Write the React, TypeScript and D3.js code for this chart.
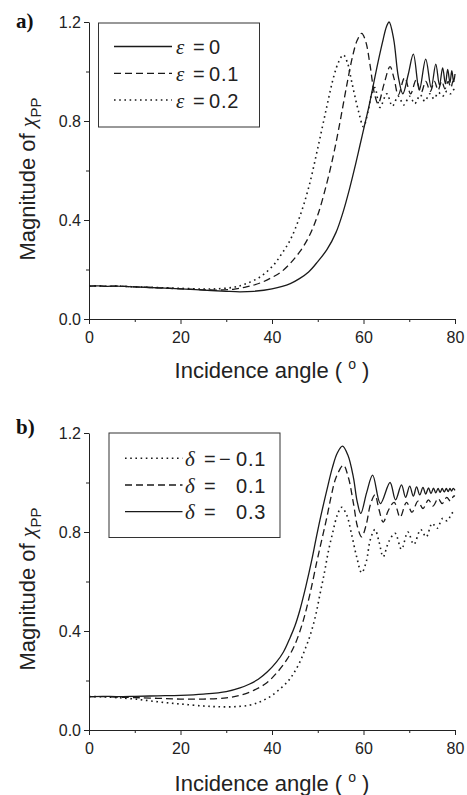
import { useEffect, useRef } from "react"
import * as d3 from "d3"

// axis ticks
const angleTicks = [0, 20, 40, 60, 80]
const angleMinorTicks = [10, 30, 50, 70]
const magTicks = [0, 0.4, 0.8, 1.2]
const magMinorTicks = [0.2, 0.6, 1.0]

// panel a) legend text
const epsLabels = ["0", "0.1", "0.2"]
// panel b) legend text
const deltaSigns = ["\u2212", "", ""]
const deltaLabels = ["0.1", "0.1", "0.3"]

// panel a) epsilon = 0 (solid)
const eps0Angle = [0, 2, 4, 6, 10, 15, 20, 25, 30, 33, 36, 40, 44, 46, 48, 50, 52, 54, 55.5, 57, 58.2, 59.2, 60.2, 61.2, 62.2, 63.2, 64.3, 65.0, 65.6, 66.6, 67.6, 68.6, 69.8, 70.9, 72.2, 73.6, 74.8, 75.8, 76.6, 77.3, 77.9, 78.4, 78.9, 79.3, 79.7, 80]
const eps0Mag = [0.133, 0.134, 0.132, 0.133, 0.13, 0.126, 0.122, 0.117, 0.112, 0.11, 0.112, 0.122, 0.143, 0.163, 0.19, 0.232, 0.28, 0.35, 0.43, 0.53, 0.62, 0.7, 0.78, 0.86, 0.95, 1.04, 1.13, 1.18, 1.2, 1.13, 0.98, 0.91, 0.99, 1.07, 0.925, 1.05, 0.935, 1.03, 0.945, 1.015, 0.95, 1.008, 0.955, 1.003, 0.958, 0.99]

// panel a) epsilon = 0.1 (dashed)
const eps1Angle = [0, 2, 4, 6, 10, 15, 20, 25, 28, 31.5, 34, 36, 38, 40.2, 42, 44, 46, 48, 50, 52, 53.4, 54.5, 55.6, 56.6, 57.6, 58.6, 59.6, 60.5, 61.4, 62.4, 63.2, 64.5, 65.8, 66.7, 67.6, 69.0, 70.3, 71.5, 72.6, 73.6, 74.6, 75.5, 76.3, 77.1, 77.8, 78.5, 79.1, 79.6, 80]
const eps1Mag = [0.133, 0.134, 0.132, 0.133, 0.13, 0.126, 0.122, 0.118, 0.117, 0.12, 0.128, 0.137, 0.15, 0.17, 0.19, 0.225, 0.27, 0.33, 0.42, 0.55, 0.66, 0.76, 0.87, 0.97, 1.06, 1.125, 1.154, 1.12, 1.03, 0.91, 0.87, 0.95, 1.02, 0.97, 0.905, 0.975, 0.91, 0.965, 0.915, 0.96, 0.92, 0.96, 0.925, 0.96, 0.93, 0.96, 0.935, 0.962, 0.955]

// panel a) epsilon = 0.2 (dotted)
const eps2Angle = [0, 2, 4, 6, 10, 15, 20, 25, 28, 31.5, 34, 37.4, 40.2, 42, 44, 46, 48, 50, 52, 53.5, 54.6, 55.6, 56.5, 57.4, 58.9, 60, 61, 61.8, 62.5, 63.6, 65.1, 66.3, 67.6, 68.8, 70.1, 71.2, 72.4, 73.4, 74.5, 75.4, 76.4, 77.3, 78.2, 79.0, 79.6, 80]
const eps2Mag = [0.133, 0.134, 0.132, 0.133, 0.13, 0.127, 0.124, 0.121, 0.122, 0.128, 0.14, 0.17, 0.215, 0.26, 0.32, 0.41, 0.53, 0.69, 0.86, 0.98, 1.04, 1.067, 1.035, 0.96, 0.84, 0.777, 0.84, 0.91, 0.935, 0.855, 0.91, 0.86, 0.9, 0.865, 0.9, 0.87, 0.905, 0.88, 0.91, 0.89, 0.915, 0.9, 0.92, 0.91, 0.925, 0.93]

// panel b) delta = -0.1 (dotted)
const deltaNegAngle = [0, 3, 6, 10, 15, 20, 25, 28, 31.5, 35, 37.4, 39.6, 41.7, 43.5, 44.7, 46.1, 47.3, 48.3, 49.5, 50.5, 51.5, 52.3, 53.3, 54.3, 55.2, 56.3, 57.4, 58.5, 59.6, 60.6, 61.5, 62.5, 63.4, 64.3, 65.5, 66.9, 68.3, 69.7, 71.0, 72.5, 73.7, 75.0, 76.1, 77.3, 78.3, 79.3, 80]
const deltaNegMag = [0.135, 0.134, 0.131, 0.125, 0.114, 0.105, 0.097, 0.094, 0.094, 0.1, 0.114, 0.135, 0.165, 0.197, 0.228, 0.275, 0.33, 0.38, 0.46, 0.55, 0.64, 0.72, 0.8, 0.87, 0.9, 0.87, 0.79, 0.7, 0.635, 0.68, 0.77, 0.81, 0.76, 0.7, 0.76, 0.795, 0.73, 0.8, 0.75, 0.81, 0.78, 0.835, 0.815, 0.855, 0.845, 0.875, 0.885]

// panel b) delta = 0.1 (dashed)
const deltaLowAngle = [0, 3, 6, 10, 15, 20, 25, 30, 33, 36, 38.8, 41, 43.2, 45, 46.8, 48.3, 49.8, 50.9, 52, 53, 54, 55.6, 56.7, 57.8, 58.7, 59.6, 60.6, 61.5, 62.5, 63.4, 64.3, 65.5, 66.7, 68, 69.4, 70.6, 71.9, 73.0, 74.2, 75.2, 76.3, 77.2, 78.2, 79.0, 79.7, 80]
const deltaLowMag = [0.135, 0.135, 0.133, 0.131, 0.128, 0.125, 0.125, 0.13, 0.14, 0.16, 0.19, 0.23, 0.283, 0.345, 0.44, 0.55, 0.68, 0.77, 0.86, 0.95, 1.02, 1.07, 1.02, 0.916, 0.82, 0.78, 0.83, 0.91, 0.95, 0.89, 0.84, 0.89, 0.92, 0.86, 0.92, 0.88, 0.925, 0.895, 0.93, 0.905, 0.935, 0.915, 0.94, 0.925, 0.945, 0.945]

// panel b) delta = 0.3 (solid)
const deltaHighAngle = [0, 3, 6, 10, 15, 20, 25, 30, 33, 35, 37, 39, 41, 42.5, 44, 45, 46.1, 47.4, 48.7, 49.6, 50.5, 52, 53.2, 54.3, 55.4, 56.6, 57.8, 58.6, 59.4, 60.7, 62.0, 63.7, 65.8, 67.0, 68.3, 69.2, 70.1, 70.9, 71.6, 72.3, 73.0, 73.6, 74.2, 74.75, 75.3, 75.8, 76.3, 76.75, 77.2, 77.65, 78.1, 78.5, 78.9, 79.25, 79.6, 80]
const deltaHighMag = [0.135, 0.136, 0.135, 0.136, 0.138, 0.14, 0.145, 0.155, 0.17, 0.185, 0.205, 0.235, 0.275, 0.315, 0.375, 0.42, 0.485, 0.58, 0.687, 0.77, 0.85, 0.97, 1.06, 1.12, 1.147, 1.11, 1.02, 0.925, 0.875, 0.96, 1.03, 0.915, 1.0, 0.93, 0.99, 0.94, 0.985, 0.945, 0.982, 0.95, 0.98, 0.953, 0.978, 0.955, 0.977, 0.958, 0.976, 0.96, 0.976, 0.962, 0.976, 0.963, 0.976, 0.965, 0.976, 0.968]

const SANS = "'Liberation Sans', Arial, sans-serif"
const SERIF = "'Liberation Serif', 'Times New Roman', serif"
const INK = "#222"
const dashes: Record<string, string | null> = { solid: null, dashed: "7 4", dotted: "1.6 3.6" }

const panels = [
  {
    tag: "a)", tagY: 28, top: 22, bottom: 319, xTitleY: 378, yTitleMid: 179,
    symbol: "\u03b5",
    lines: [
      { angle: eps0Angle, mag: eps0Mag, style: "solid", sign: "", label: epsLabels[0] },
      { angle: eps1Angle, mag: eps1Mag, style: "dashed", sign: "", label: epsLabels[1] },
      { angle: eps2Angle, mag: eps2Mag, style: "dotted", sign: "", label: epsLabels[2] },
    ],
    legend: { x: 98.5, y: 23, w: 161, h: 104, x0: 114, x1: 172, rows: [46.5, 73.3, 100], symX: 176, eqX: 193, signX: 0, valX: 209 },
  },
  {
    tag: "b)", tagY: 434, top: 433, bottom: 730, xTitleY: 791, yTitleMid: 589,
    symbol: "\u03b4",
    lines: [
      { angle: deltaNegAngle, mag: deltaNegMag, style: "dotted", sign: deltaSigns[0], label: deltaLabels[0] },
      { angle: deltaLowAngle, mag: deltaLowMag, style: "dashed", sign: deltaSigns[1], label: deltaLabels[1] },
      { angle: deltaHighAngle, mag: deltaHighMag, style: "solid", sign: deltaSigns[2], label: deltaLabels[2] },
    ],
    legend: { x: 109, y: 433, w: 171, h: 104.5, x0: 125, x1: 182.5, rows: [458.3, 485, 511.7], symX: 185, eqX: 204, signX: 219, valX: 236 },
  },
]

export default function App() {
  const svgRef = useRef<SVGSVGElement | null>(null)

  useEffect(() => {
    if (!svgRef.current) return
    const svg = d3.select(svgRef.current)
    svg.selectAll("*").remove()

    const x = d3.scaleLinear().domain([0, 80]).range([89, 455])

    panels.forEach(p => {
      const y = d3.scaleLinear().domain([0, 1.2]).range([p.bottom, p.top])
      const g = svg.append("g")

      // minor ticks
      g.append("g")
        .attr("transform", `translate(0,${p.bottom})`)
        .call(d3.axisBottom(x).tickValues(angleMinorTicks).tickSize(3).tickSizeOuter(0).tickFormat(() => ""))
        .call(s => s.select(".domain").remove())
      g.append("g")
        .attr("transform", "translate(89,0)")
        .call(d3.axisLeft(y).tickValues(magMinorTicks).tickSize(3).tickSizeOuter(0).tickFormat(() => ""))
        .call(s => s.select(".domain").remove())

      // major axes
      const xAxis = g.append("g")
        .attr("transform", `translate(0,${p.bottom})`)
        .call(d3.axisBottom(x).tickValues(angleTicks).tickSize(5).tickSizeOuter(0).tickPadding(7.5).tickFormat(d3.format("d")))
      const yAxis = g.append("g")
        .attr("transform", "translate(89,0)")
        .call(d3.axisLeft(y).tickValues(magTicks).tickSize(5).tickSizeOuter(0).tickPadding(3).tickFormat(d3.format(".1f")))
      yAxis.selectAll("text").attr("dy", "0.36em")

      g.selectAll("g").attr("color", INK)
      g.selectAll("path.domain, line").attr("stroke-width", 1)
      ;[xAxis, yAxis].forEach(a => a.selectAll("text").attr("font-family", SANS).attr("font-size", 16).attr("fill", INK))

      // curves
      const line = d3.line<[number, number]>()
        .x(d => x(d[0]))
        .y(d => y(d[1]))
        .curve(d3.curveCatmullRom.alpha(0.5))
      p.lines.forEach(s => {
        const path = g.append("path")
          .datum(d3.zip(s.angle, s.mag) as [number, number][])
          .attr("fill", "none")
          .attr("stroke", "#1a1a1a")
          .attr("stroke-width", s.style === "dotted" ? 1.6 : 1.3)
          .attr("d", line)
        if (dashes[s.style]) path.attr("stroke-dasharray", dashes[s.style] as string)
      })

      // legend
      const L = p.legend
      g.append("rect")
        .attr("x", L.x).attr("y", L.y).attr("width", L.w).attr("height", L.h)
        .attr("fill", "white").attr("stroke", "#333").attr("stroke-width", 1)
      p.lines.forEach((s, i) => {
        const ry = L.rows[i]
        const seg = g.append("line")
          .attr("x1", L.x0).attr("x2", L.x1).attr("y1", ry).attr("y2", ry)
          .attr("stroke", "#1a1a1a")
          .attr("stroke-width", s.style === "dotted" ? 1.6 : 1.3)
        if (dashes[s.style]) seg.attr("stroke-dasharray", dashes[s.style] as string)
        const by = ry + 7.5
        g.append("text").attr("x", L.symX).attr("y", by)
          .attr("font-family", SERIF).attr("font-style", "italic").attr("font-size", 21).attr("fill", INK)
          .text(p.symbol)
        g.append("text").attr("x", L.eqX).attr("y", by)
          .attr("font-family", SANS).attr("font-size", 20).attr("fill", INK)
          .text("=")
        if (s.sign) {
          g.append("text").attr("x", L.signX).attr("y", by)
            .attr("font-family", SANS).attr("font-size", 20).attr("fill", INK)
            .text(s.sign)
        }
        g.append("text").attr("x", L.valX).attr("y", by)
          .attr("font-family", SANS).attr("font-size", 20).attr("letter-spacing", 0.8).attr("fill", INK)
          .text(s.label)
      })

      // panel tag
      g.append("text").attr("x", 16).attr("y", p.tagY)
        .attr("font-family", SERIF).attr("font-weight", "bold").attr("font-size", 21).attr("fill", "#111")
        .text(p.tag)

      // x title
      const xt = g.append("text")
        .attr("x", 272).attr("y", p.xTitleY)
        .attr("text-anchor", "middle")
        .attr("font-family", SANS).attr("font-size", 22).attr("fill", INK)
      xt.append("tspan").text("Incidence angle ( ")
      xt.append("tspan").attr("font-size", 14).attr("dy", -9).text("o")
      xt.append("tspan").attr("dy", 9).text(" )")

      // y title
      const yt = g.append("text")
        .attr("transform", `translate(35,${p.yTitleMid}) rotate(-90)`)
        .attr("text-anchor", "middle")
        .attr("font-family", SANS).attr("font-size", 22).attr("fill", INK)
      yt.append("tspan").text("Magnitude of ")
      yt.append("tspan").attr("font-family", SERIF).attr("font-style", "italic").text("\u03c7")
      yt.append("tspan").attr("font-size", 15).attr("dy", 6).text("PP")
    })
  }, [])

  return (
    <svg
      ref={svgRef}
      width={467}
      height={795}
      style={{ position: "absolute", left: 0, top: 0, background: "white" }}
    />
  )
}
